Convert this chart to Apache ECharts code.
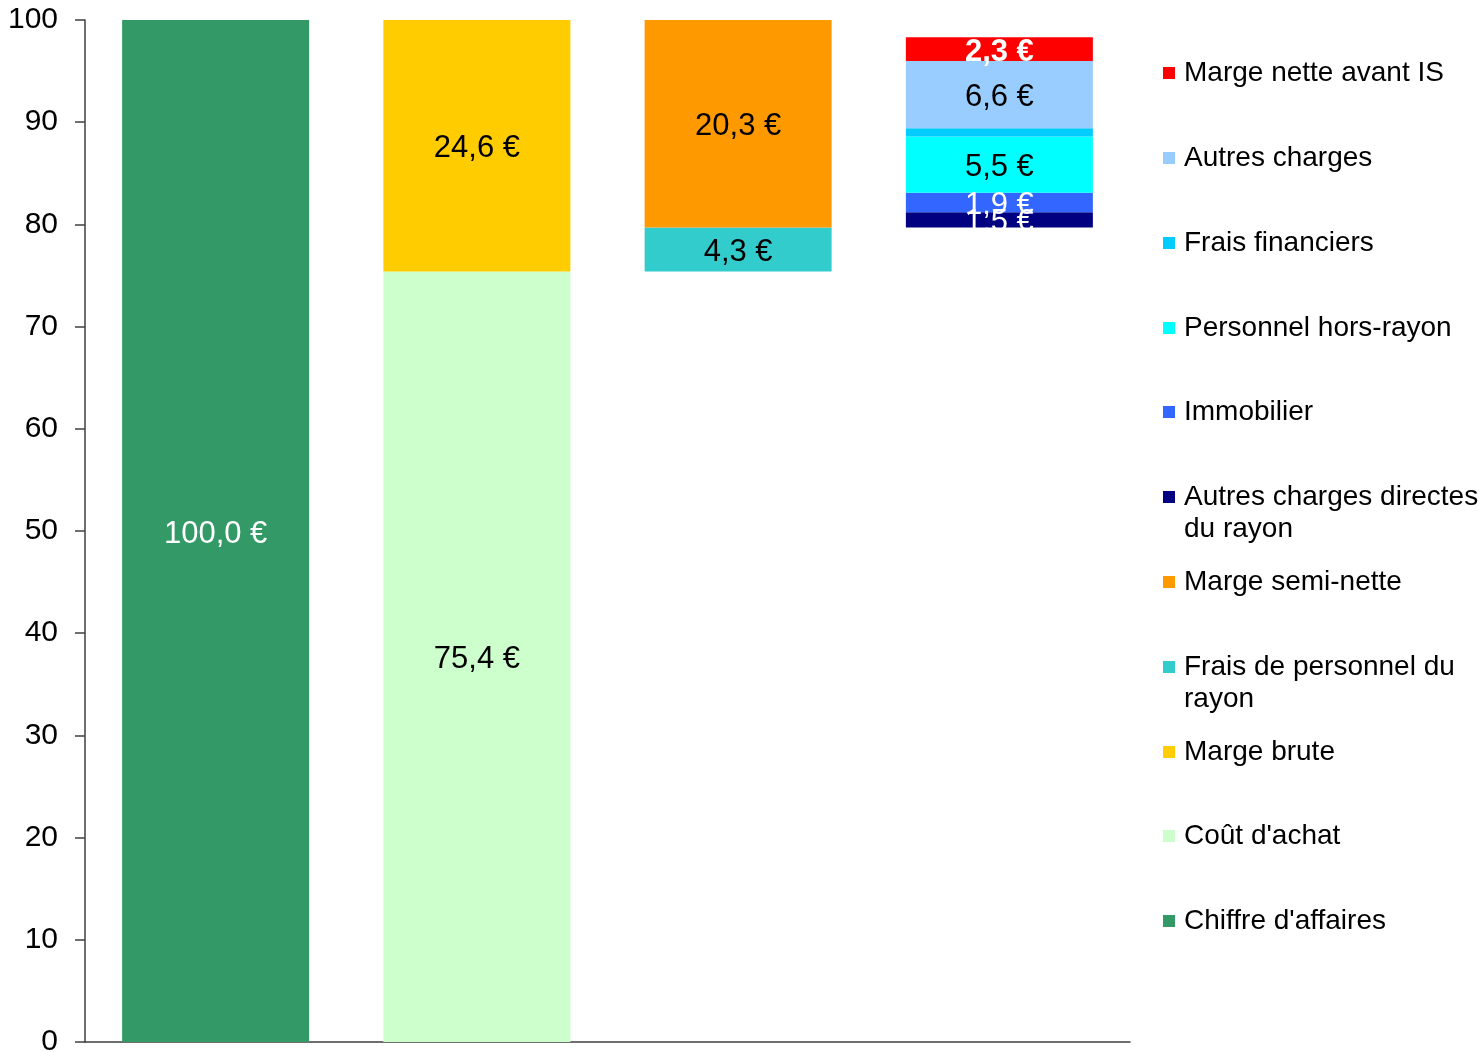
<!DOCTYPE html>
<html>
<head>
<meta charset="utf-8">
<script src="https://cdn.jsdelivr.net/npm/echarts@6/dist/echarts.min.js"></script>
<style>
  html, body { margin: 0; padding: 0; background: #fff; }
  #chart { width: 1479px; height: 1052px; }
</style>
</head>
<body>
<div id="chart"></div>
<script>
// colonnes (pas de libellé sur l'axe)
var categories = ['1', '2', '3', '4'];

// décalage invisible pour l'effet cascade
var base = [0, 0, 75.4, 79.7];

var chiffreAffaires = [100.0, null, null, null];
var coutAchat = [null, 75.4, null, null];
var margeBrute = [null, 24.6, null, null];
var fraisPersonnelRayon = [null, null, 4.3, null];
var margeSemiNette = [null, null, 20.3, null];
var autresChargesDirectes = [null, null, null, 1.5];
var immobilier = [null, null, null, 1.9];
var personnelHorsRayon = [null, null, null, 5.5];
var fraisFinanciers = [null, null, null, 0.8];
var autresCharges = [null, null, null, 6.6];
var margeNette = [null, null, null, 2.3];

var yTicks = { min: 0, max: 100, interval: 10 };

// ordre d'empilement (bas -> haut)
var seriesDefs = [
  { name: "Chiffre d'affaires", data: chiffreAffaires, color: '#339966', label: '#ffffff' },
  { name: "Coût d'achat", data: coutAchat, color: '#CCFFCC', label: '#000000' },
  { name: 'Marge brute', data: margeBrute, color: '#FFCC00', label: '#000000' },
  { name: 'Frais de personnel du rayon', data: fraisPersonnelRayon, color: '#33CCCC', label: '#000000' },
  { name: 'Marge semi-nette', data: margeSemiNette, color: '#FF9900', label: '#000000' },
  { name: 'Autres charges directes du rayon', data: autresChargesDirectes, color: '#000080', label: '#ffffff' },
  { name: 'Immobilier', data: immobilier, color: '#3366FF', label: '#ffffff' },
  { name: 'Personnel hors-rayon', data: personnelHorsRayon, color: '#00FFFF', label: '#000000' },
  { name: 'Frais financiers', data: fraisFinanciers, color: '#00CCFF', label: null },
  { name: 'Autres charges', data: autresCharges, color: '#99CCFF', label: '#000000' },
  { name: 'Marge nette avant IS', data: margeNette, color: '#FF0000', label: '#ffffff', bold: true }
];

// légende (haut -> bas), texte avec retour à la ligne
var legendItems = [
  ['Marge nette avant IS', 'Marge nette avant IS'],
  ['Autres charges', 'Autres charges'],
  ['Frais financiers', 'Frais financiers'],
  ['Personnel hors-rayon', 'Personnel hors-rayon'],
  ['Immobilier', 'Immobilier'],
  ['Autres charges directes du rayon', 'Autres charges directes\ndu rayon'],
  ['Marge semi-nette', 'Marge semi-nette'],
  ['Frais de personnel du rayon', 'Frais de personnel du\nrayon'],
  ['Marge brute', 'Marge brute'],
  ["Coût d'achat", "Coût d'achat"],
  ["Chiffre d'affaires", "Chiffre d'affaires"]
];

var FONT = 'Arial, "Liberation Sans", sans-serif';

function fmt(v) {
  return v.toFixed(1).replace('.', ',') + ' €';
}

var myChart = echarts.init(document.getElementById('chart'));

var series = [{
  name: 'base',
  type: 'bar',
  stack: 'total',
  data: base,
  barWidth: 187,
  itemStyle: { color: 'transparent' },
  emphasis: { disabled: true },
  silent: true
}];

seriesDefs.forEach(function (d) {
  series.push({
    name: d.name,
    type: 'bar',
    stack: 'total',
    data: d.data,
    barWidth: 187,
    itemStyle: { color: d.color },
    emphasis: { disabled: true },
    label: {
      show: !!d.label,
      position: 'inside',
      offset: [0, 3],
      color: d.label || '#000',
      fontFamily: FONT,
      fontSize: 31,
      fontWeight: d.bold ? 'bold' : 'normal',
      formatter: function (p) { return fmt(p.value); }
    }
  });
});

// une légende par entrée pour garder un pas régulier
var legendCenters = [71, 156, 241, 326, 410, 495, 580, 665, 750, 834, 919];
var LH = 32;
var legends = legendItems.map(function (it, i) {
  var twoLines = it[1].indexOf('\n') >= 0;
  return {
    orient: 'vertical',
    left: 1163,
    top: legendCenters[i] + 2 - LH / 2,
    padding: 0,
    itemWidth: 12,
    itemHeight: twoLines ? LH + 12 : 12,
    icon: twoLines ? 'path://M0,0H10V10H0Z M0,36.67' : 'rect',
    data: [it[0]],
    formatter: function () { return it[1]; },
    textStyle: {
      fontFamily: FONT,
      fontSize: 28,
      lineHeight: LH,
      color: '#000',
      padding: [0, 0, 0, 4]
    }
  };
});

var option = {
  backgroundColor: '#ffffff',
  animation: false,
  legend: legends,
  grid: { left: 85, right: 349, top: 20, bottom: 10, outerBoundsMode: 'none', containLabel: false },
  xAxis: {
    type: 'category',
    data: categories,
    axisLine: { show: true, lineStyle: { color: '#404040', width: 1.5 } },
    axisTick: { show: false },
    axisLabel: { show: false }
  },
  yAxis: {
    type: 'value',
    min: yTicks.min,
    max: yTicks.max,
    interval: yTicks.interval,
    splitLine: { show: false },
    axisLine: { show: true, lineStyle: { color: '#404040', width: 1.5 } },
    axisTick: { show: true, inside: false, length: 10, lineStyle: { color: '#404040', width: 1.5 } },
    axisLabel: { color: '#000', fontFamily: FONT, fontSize: 30, margin: 27 }
  },
  series: series
};

myChart.setOption(option);
</script>
</body>
</html>
